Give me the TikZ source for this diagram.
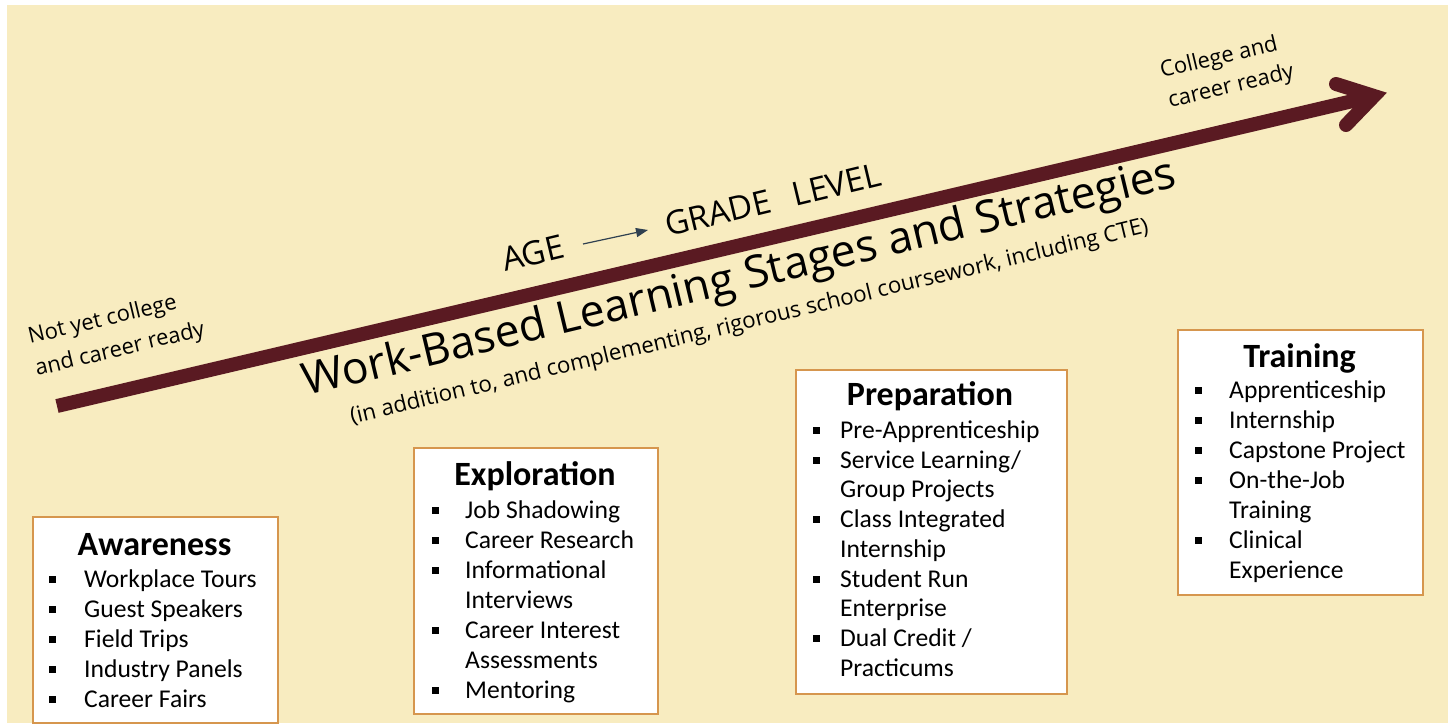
\documentclass[tikz,border=0pt]{standalone}
\usepackage{fontspec}
\setmainfont{Carlito}
\newfontfamily\rotfont{Open Sans}
\usetikzlibrary{arrows.meta}
\definecolor{bg}{HTML}{F8ECC0}
\definecolor{maroon}{HTML}{5A1A22}
\definecolor{boxline}{HTML}{D6964E}
\definecolor{slate}{HTML}{2F4050}
\newcommand\fsz[1]{\fontsize{#1}{#1}\selectfont}
\newcommand\bu[1]{\llap{\raisebox{4pt}{\rule{7pt}{7pt}}\hspace{#1pt}}}
\tikzset{
  stage/.style={draw=boxline, line width=2pt, fill=white, anchor=north west, inner sep=0pt},
  ttl/.style={font=\bfseries\fsz{34}, anchor=base, inner sep=0pt},
  itm/.style={font=\fsz{25.6}, anchor=base west, inner sep=0pt},
  rot/.style={rotate=13.5, inner sep=0pt, anchor=base west},
  bar/.style={maroon, line width=14pt},
}
\begin{document}
\begin{tikzpicture}[x=1pt,y=-1pt]
\useasboundingbox (0,0) rectangle (1448,723);
\fill[bg] (7,5) rectangle (1448,723);

% main arrow
\coordinate (start) at (57,406);
\coordinate (tip) at (1374,96);
\coordinate (armup) at (1336,84);
\coordinate (armdn) at (1346,125);
\draw[bar] (start) -- (tip);
\draw[bar, line cap=round, line join=miter] (armup) -- (tip) -- (armdn);

% rotated labels
\node[rot, font=\rotfont\fsz{22}] (ny1) at (30,344) {Not yet college};
\node[rot, font=\rotfont\fsz{22}] (ny2) at (37,376) {and career ready};
\node[rot, font=\rotfont\fsz{22}] (cr1) at (1162,78) {College and};
\node[rot, font=\rotfont\fsz{22}] (cr2) at (1170,108) {career ready};
\node[rot, font=\rotfont\fsz{33}] (age) at (505,272) {AGE};
\node[rot, font=\rotfont\fsz{33}] (grade) at (668,237) {GRADE\hspace{0.7em}LEVEL};
\coordinate (a1) at (583,244);
\coordinate (a2) at (648,230);
\draw[slate, line width=1.2pt, -{Triangle[length=12pt,width=9pt]}] (a1) -- (a2);
\node[rot, font=\rotfont\fsz{44.5}] (title) at (306,396) {Work-Based Learning Stages and Strategies};
\node[rot, font=\rotfont\fsz{22.3}] (sub) at (352,424) {(in addition to, and complementing, rigorous school coursework, including CTE)};

% Awareness
\node[stage, minimum width=245pt, minimum height=206pt] (aw) at (32,516) {};
\node[ttl] (awt) at (154.5,555) {Awareness};
\node[itm] (aw1) at (84,587) {\bu{28}Workplace Tours};
\node[itm] (aw2) at (84,617) {\bu{28}Guest Speakers};
\node[itm] (aw3) at (84,647) {\bu{28}Field Trips};
\node[itm] (aw4) at (84,677) {\bu{28}Industry Panels};
\node[itm] (aw5) at (84,707) {\bu{28}Career Fairs};

% Exploration
\node[stage, minimum width=244pt, minimum height=266pt] (ex) at (413,447) {};
\node[ttl] (ext) at (535,485) {Exploration};
\node[itm] (ex1) at (465,518) {\bu{26}Job Shadowing};
\node[itm] (ex2) at (465,548) {\bu{26}Career Research};
\node[itm] (ex3) at (465,578) {\bu{26}Informational};
\node[itm] (ex4) at (465,608) {Interviews};
\node[itm] (ex5) at (465,638) {\bu{26}Career Interest};
\node[itm] (ex6) at (465,668) {Assessments};
\node[itm] (ex7) at (465,698) {\bu{26}Mentoring};

% Preparation
\node[stage, minimum width=271pt, minimum height=324pt] (pr) at (795,369) {};
\node[ttl] (prt) at (930,405) {Preparation};
\node[itm] (pr1) at (840,438) {\bu{20}Pre-Apprenticeship};
\node[itm] (pr2) at (840,468) {\bu{20}Service Learning/};
\node[itm] (pr3) at (840,497) {Group Projects};
\node[itm] (pr4) at (840,527) {\bu{20}Class Integrated};
\node[itm] (pr5) at (840,557) {Internship};
\node[itm] (pr6) at (840,587) {\bu{20}Student Run};
\node[itm] (pr7) at (840,616) {Enterprise};
\node[itm] (pr8) at (840,646) {\bu{20}Dual Credit /};
\node[itm] (pr9) at (840,676) {Practicums};

% Training
\node[stage, minimum width=245pt, minimum height=265pt] (tr) at (1177,329) {};
\node[ttl] (trt) at (1299.5,367) {Training};
\node[itm] (tr1) at (1229,398) {\bu{27}Apprenticeship};
\node[itm] (tr2) at (1229,428) {\bu{27}Internship};
\node[itm] (tr3) at (1229,458) {\bu{27}Capstone Project};
\node[itm] (tr4) at (1229,488) {\bu{27}On-the-Job};
\node[itm] (tr5) at (1229,518) {Training};
\node[itm] (tr6) at (1229,548) {\bu{27}Clinical};
\node[itm] (tr7) at (1229,578) {Experience};
\end{tikzpicture}
\end{document}
